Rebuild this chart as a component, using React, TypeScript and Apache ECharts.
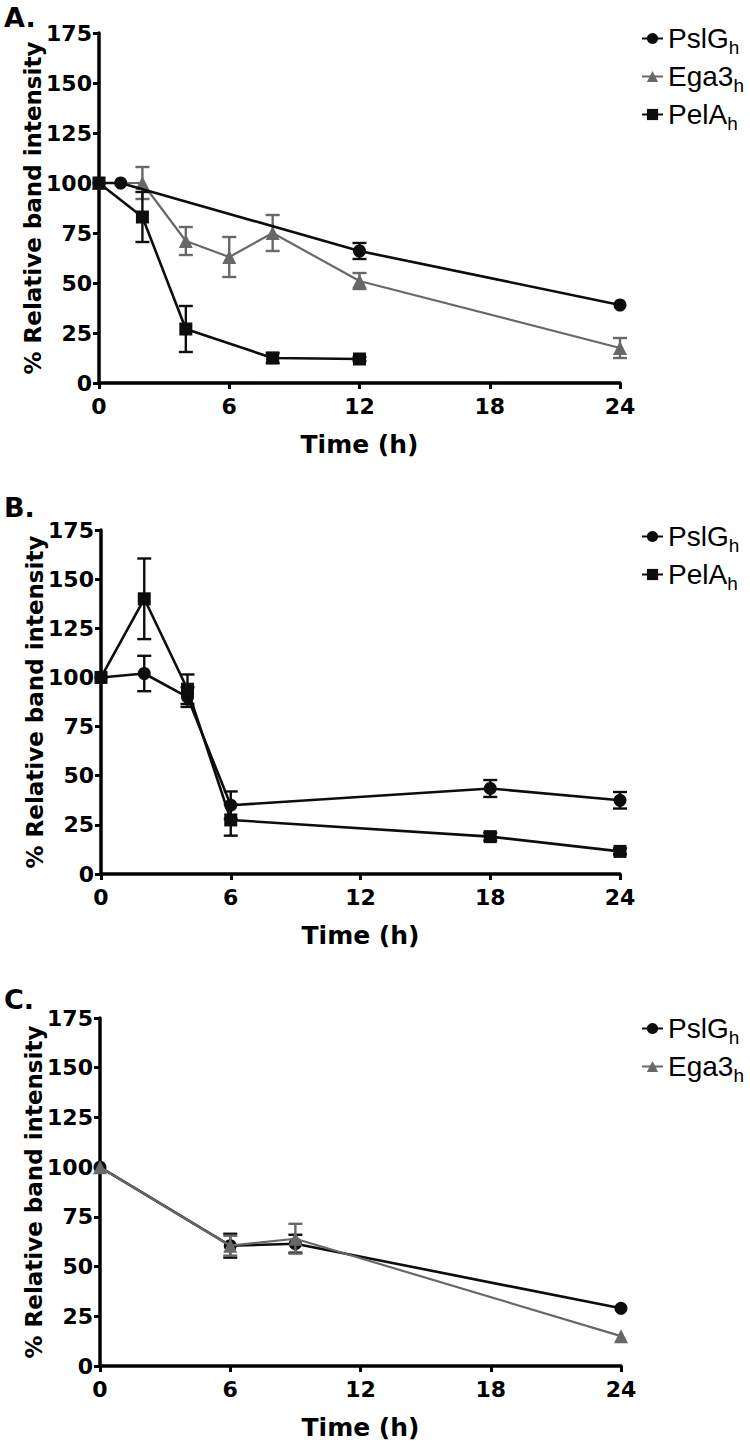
import React, { useEffect, useRef } from "react";
import * as echarts from "echarts";

// ---------- Data ----------
const xTicks = [0, 6, 12, 18, 24];
const yTicks = [0, 25, 50, 75, 100, 125, 150, 175];

// Panel A
const hoursA_PslG = [0, 1, 12, 24];
const valsA_PslG = [100, 100, 66, 39];
const errA_PslG = [0, 0, 4, 0];
const hoursA_Ega3 = [0, 2, 4, 6, 8, 12, 24];
const valsA_Ega3 = [100, 100, 71, 63, 75, 51, 17.5];
const errA_Ega3 = [0, 8, 7, 10, 9, 4, 5];
const hoursA_PelA = [0, 2, 4, 8, 12];
const valsA_PelA = [100, 83, 27, 12.5, 12];
const errA_PelA = [0, 12.5, 11.5, 2.5, 1];

// Panel B
const hoursB_PslG = [0, 2, 4, 6, 18, 24];
const valsB_PslG = [100, 102, 90, 35, 43.5, 37.5];
const errB_PslG = [0, 9, 5, 7, 4.3, 4.2];
const hoursB_PelA = [0, 2, 4, 6, 18, 24];
const valsB_PelA = [100, 140, 94, 27.5, 19, 11.5];
const errB_PelA = [0, 20.5, 7.5, 8, 2, 1.5];

// Panel C
const hoursC_PslG = [0, 6, 9, 24];
const valsC_PslG = [100, 60.5, 61.5, 29];
const errC_PslG = [0, 6, 4.5, 0];
const hoursC_Ega3 = [0, 6, 9, 24];
const valsC_Ega3 = [100, 60.5, 64, 15];
const errC_Ega3 = [0, 5, 7.5, 0];

const panelLetters = ["A.", "B.", "C."];
const legendA = ["PslG", "Ega3", "PelA"];
const legendB = ["PslG", "PelA"];
const legendC = ["PslG", "Ega3"];

// ---------- Styles ----------
const BLACK = "#0d0d0d";
const GRAY = "#686868";
const AX_FONT = "DejaVu Sans";
const LEG_FONT = "Liberation Sans";

const styleOf: Record<string, { color: string; symbol: string; size: number; width: number }> = {
  PslG: { color: BLACK, symbol: "circle", size: 13, width: 2.6 },
  Ega3: { color: GRAY, symbol: "triangle", size: 14, width: 2.2 },
  PelA: { color: BLACK, symbol: "rect", size: 13, width: 2.6 },
};

const grids = [
  { left: 99, top: 33, width: 521, height: 350 },
  { left: 101, top: 530, width: 519, height: 344 },
  { left: 100, top: 1018, width: 521, height: 348 },
];

function lineSeries(name: string, g: number, hours: number[], vals: number[], z: number) {
  const s = styleOf[name];
  return {
    type: "line",
    name,
    xAxisIndex: g,
    yAxisIndex: g,
    data: hours.map((h, i) => [h, vals[i]]),
    symbol: s.symbol,
    symbolSize: s.size,
    showAllSymbol: true,
    lineStyle: { color: s.color, width: s.width },
    itemStyle: { color: s.color, borderWidth: 0 },
    z,
    silent: true,
  };
}

function errSeries(name: string, g: number, hours: number[], vals: number[], errs: number[], z: number) {
  const s = styleOf[name];
  const data = hours
    .map((h, i) => [h, vals[i] - errs[i], vals[i] + errs[i], errs[i]])
    .filter((d) => d[3] > 0);
  return {
    type: "custom",
    name: name + "-err-" + g,
    xAxisIndex: g,
    yAxisIndex: g,
    data,
    encode: { x: 0, y: [1, 2] },
    z,
    silent: true,
    renderItem: (_params: any, api: any) => {
      const x = api.value(0);
      const lo = api.coord([x, api.value(1)]);
      const hi = api.coord([x, api.value(2)]);
      const hw = 7;
      const st = { stroke: s.color, lineWidth: 2.4 };
      return {
        type: "group",
        children: [
          { type: "line", shape: { x1: lo[0], y1: lo[1], x2: hi[0], y2: hi[1] }, style: st },
          { type: "line", shape: { x1: lo[0] - hw, y1: lo[1], x2: lo[0] + hw, y2: lo[1] }, style: st },
          { type: "line", shape: { x1: hi[0] - hw, y1: hi[1], x2: hi[0] + hw, y2: hi[1] }, style: st },
        ],
      };
    },
  };
}

function xAxis(g: number) {
  return {
    type: "value",
    gridIndex: g,
    min: xTicks[0],
    max: xTicks[xTicks.length - 1],
    interval: xTicks[1] - xTicks[0],
    axisLine: { show: true, onZero: false, lineStyle: { color: "#000", width: 3.5 } },
    axisTick: { show: true, length: 6, lineStyle: { color: "#000", width: 3 } },
    axisLabel: { fontFamily: AX_FONT, fontWeight: "bold", fontSize: 22, color: "#000", margin: 12 },
    splitLine: { show: false },
    name: "Time (h)",
    nameLocation: "middle",
    nameGap: 49,
    nameMoveOverlap: false,
    nameTextStyle: { fontFamily: AX_FONT, fontWeight: "bold", fontSize: 25, color: "#000" },
  };
}

function yAxis(g: number) {
  return {
    type: "value",
    gridIndex: g,
    min: yTicks[0],
    max: yTicks[yTicks.length - 1],
    interval: yTicks[1] - yTicks[0],
    axisLine: { show: true, onZero: false, lineStyle: { color: "#000", width: 3.5 } },
    axisTick: { show: true, length: 6, lineStyle: { color: "#000", width: 3 } },
    axisLabel: { fontFamily: AX_FONT, fontWeight: "bold", fontSize: 22, color: "#000", margin: 7 },
    splitLine: { show: false },
    name: "% Relative band intensity",
    nameLocation: "middle",
    nameGap: 55,
    nameMoveOverlap: false,
    nameTextStyle: { fontFamily: AX_FONT, fontWeight: "bold", fontSize: 23, color: "#000" },
  };
}

function legend(data: string[], top: number) {
  return {
    orient: "vertical",
    left: 636,
    top,
    itemWidth: 21,
    itemHeight: 14,
    itemGap: 1,
    selectedMode: false,
    data,
    formatter: (name: string) => `{n|${name}}{s|h}`,
    textStyle: {
      fontFamily: LEG_FONT,
      fontSize: 28,
      color: "#000",
      rich: {
        n: { fontFamily: LEG_FONT, fontSize: 28, color: "#000", lineHeight: 28, verticalAlign: "middle" },
        s: { fontFamily: LEG_FONT, fontSize: 19, color: "#000", lineHeight: 18, verticalAlign: "middle", padding: [18, 0, 0, 0] },
      },
    },
  };
}

export default function App() {
  const ref = useRef<HTMLDivElement>(null);
  useEffect(() => {
    if (!ref.current) return;
    const chart = echarts.init(ref.current, undefined, { renderer: "svg" });
    const option = {
      animation: false,
      backgroundColor: "#fff",
      grid: grids,
      xAxis: [xAxis(0), xAxis(1), xAxis(2)],
      yAxis: [yAxis(0), yAxis(1), yAxis(2)],
      legend: [legend(legendA, 15), legend(legendB, 513), legend(legendC, 1005)],
      graphic: panelLetters.map((t, i) => ({
        type: "text",
        left: 4,
        top: [4, 494, 986][i],
        style: { text: t, fontFamily: AX_FONT, fontWeight: "bold", fontSize: 27, fill: "#000" },
      })),
      series: [
        // Panel A
        errSeries("Ega3", 0, hoursA_Ega3, valsA_Ega3, errA_Ega3, 3),
        lineSeries("Ega3", 0, hoursA_Ega3, valsA_Ega3, 4),
        errSeries("PslG", 0, hoursA_PslG, valsA_PslG, errA_PslG, 5),
        lineSeries("PslG", 0, hoursA_PslG, valsA_PslG, 6),
        errSeries("PelA", 0, hoursA_PelA, valsA_PelA, errA_PelA, 7),
        lineSeries("PelA", 0, hoursA_PelA, valsA_PelA, 8),
        // Panel B
        errSeries("PslG", 1, hoursB_PslG, valsB_PslG, errB_PslG, 3),
        lineSeries("PslG", 1, hoursB_PslG, valsB_PslG, 4),
        errSeries("PelA", 1, hoursB_PelA, valsB_PelA, errB_PelA, 5),
        lineSeries("PelA", 1, hoursB_PelA, valsB_PelA, 6),
        // Panel C
        errSeries("PslG", 2, hoursC_PslG, valsC_PslG, errC_PslG, 3),
        lineSeries("PslG", 2, hoursC_PslG, valsC_PslG, 4),
        errSeries("Ega3", 2, hoursC_Ega3, valsC_Ega3, errC_Ega3, 5),
        lineSeries("Ega3", 2, hoursC_Ega3, valsC_Ega3, 6),
      ],
    };
    chart.setOption(option as any);
    return () => chart.dispose();
  }, []);
  return (
    <div
      ref={ref}
      style={{ position: "absolute", left: 0, top: 0, width: 750, height: 1455, background: "#fff" }}
    />
  );
}
